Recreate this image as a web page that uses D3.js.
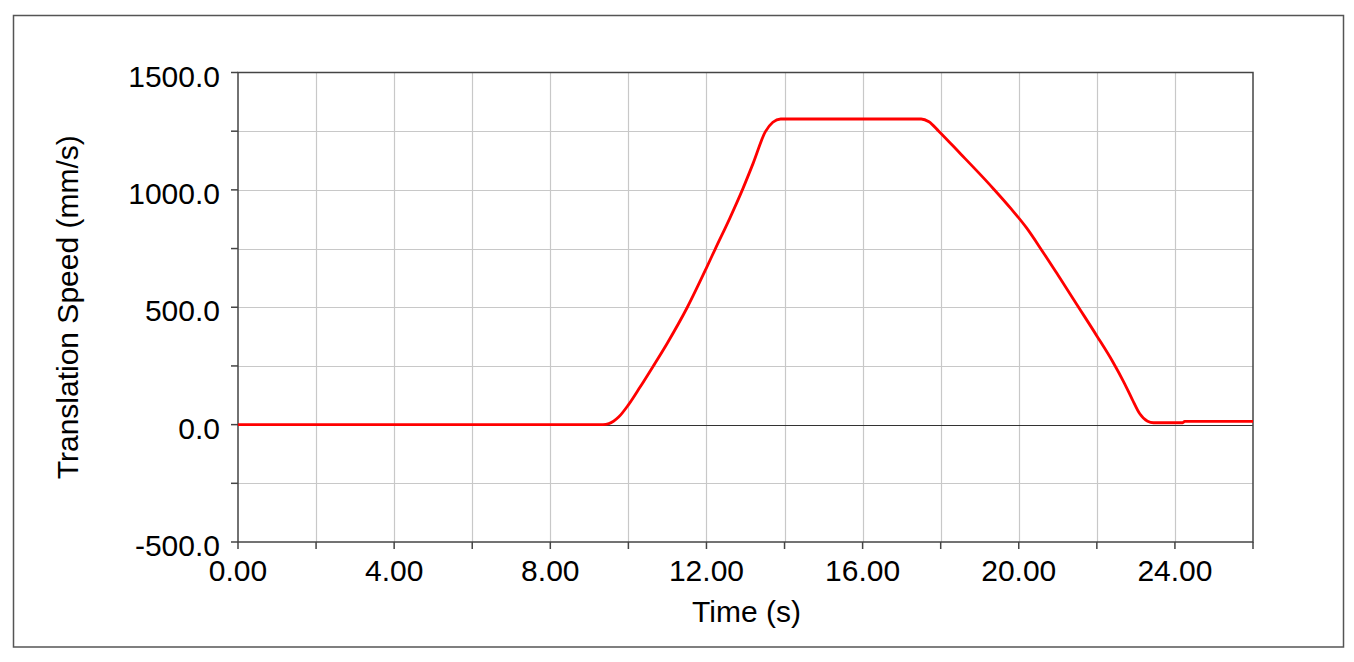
<!DOCTYPE html>
<html>
<head>
<meta charset="utf-8">
<title>Translation Speed</title>
<script src="https://d3js.org/d3.v7.min.js"></script>
<style>
body { margin: 0; background: #fff; }
svg { display: block; }
text { font-family: "Liberation Sans", Arial, sans-serif; fill: #000; }
</style>
</head>
<body>
<svg id="chart"></svg>
<script>

    // Data
    var timeS = [0, 9.35, 9.5, 9.75, 10, 10.3, 10.64, 11, 11.51, 12, 12.23, 12.6, 12.92, 13.2,
                 13.51, 13.7, 13.9, 17.5, 17.7, 17.95, 18.5, 19.0, 19.35, 19.8, 20.2, 20.6,
                 21, 21.54, 22, 22.4, 22.7, 22.9, 23.1, 23.3, 23.45, 24.2, 24.25, 26];
    var speedMmS = [0, 0, 4, 32, 84, 160, 250, 348, 500, 668, 750, 880, 1000, 1115,
                    1248, 1288, 1302, 1302, 1290, 1250, 1155, 1068, 1005, 920, 838, 740,
                    638, 498, 378, 270, 178, 110, 46, 14, 8, 8, 14, 14];

    // Ticks
    var xMajorTicks = [0, 4, 8, 12, 16, 20, 24];
    var xMinorTicks = [0, 2, 4, 6, 8, 10, 12, 14, 16, 18, 20, 22, 24, 26];
    var yMajorTicks = [-500, 0, 500, 1000, 1500];
    var yMinorTicks = [-500, -250, 0, 250, 500, 750, 1000, 1250, 1500];

    var width = 1354;
    var height = 662;
    var plotLeft = 238, plotRight = 1253, plotTop = 72.5, plotBottom = 542;

    var svg = d3.select('#chart')
        .attr('width', width)
        .attr('height', height);

    // outer frame
    svg.append('rect')
        .attr('x', 13.5).attr('y', 15.5)
        .attr('width', 1330).attr('height', 631.5)
        .attr('fill', 'none')
        .attr('stroke', '#555')
        .attr('stroke-width', 1.5);

    var x = d3.scaleLinear().domain([0, 26]).range([plotLeft, plotRight]);
    var y = d3.scaleLinear().domain([-500, 1500]).range([plotBottom, plotTop]);

    // grid
    svg.append('g').selectAll('line')
        .data(xMinorTicks.slice(1, -1))
        .enter().append('line')
        .attr('x1', function (d) { return Math.round(x(d)) + 0.5; })
        .attr('x2', function (d) { return Math.round(x(d)) + 0.5; })
        .attr('y1', plotTop).attr('y2', plotBottom)
        .attr('stroke', '#c8c8c8').attr('stroke-width', 1.2);

    svg.append('g').selectAll('line')
        .data(yMinorTicks.slice(1, -1))
        .enter().append('line')
        .attr('x1', plotLeft).attr('x2', plotRight)
        .attr('y1', function (d) { return Math.round(y(d)) + 0.5; })
        .attr('y2', function (d) { return Math.round(y(d)) + 0.5; })
        .attr('stroke', function (d) { return d === 0 ? '#333' : '#c8c8c8'; })
        .attr('stroke-width', 1.2);

    // plot frame
    svg.append('rect')
        .attr('x', plotLeft).attr('y', plotTop)
        .attr('width', plotRight - plotLeft).attr('height', plotBottom - plotTop)
        .attr('fill', 'none')
        .attr('stroke', '#444')
        .attr('stroke-width', 1.5);

    // x axis ticks + labels
    var xAxis = svg.append('g').attr('transform', 'translate(0,' + plotBottom + ')');
    xAxis.selectAll('line')
        .data(xMinorTicks)
        .enter().append('line')
        .attr('x1', function (d) { return x(d); })
        .attr('x2', function (d) { return x(d); })
        .attr('y1', 0).attr('y2', 7)
        .attr('stroke', '#444').attr('stroke-width', 1.5);
    xAxis.selectAll('text')
        .data(xMajorTicks)
        .enter().append('text')
        .attr('x', function (d) { return x(d); })
        .attr('y', 39)
        .attr('text-anchor', 'middle')
        .style('font-size', '30px')
        .text(function (d) { return d.toFixed(2); });

    // y axis ticks + labels
    var yAxis = svg.append('g').attr('transform', 'translate(' + plotLeft + ',0)');
    yAxis.selectAll('line')
        .data(yMinorTicks)
        .enter().append('line')
        .attr('x1', -7).attr('x2', 0)
        .attr('y1', function (d) { return y(d); })
        .attr('y2', function (d) { return y(d); })
        .attr('stroke', '#444').attr('stroke-width', 1.5);
    yAxis.selectAll('text')
        .data(yMajorTicks)
        .enter().append('text')
        .attr('x', -18)
        .attr('y', function (d) { return y(d) + 14; })
        .attr('text-anchor', 'end')
        .style('font-size', '30px')
        .text(function (d) { return d.toFixed(1); });

    // axis titles
    svg.append('text')
        .attr('x', (plotLeft + plotRight) / 2 + 1)
        .attr('y', 622)
        .attr('text-anchor', 'middle')
        .style('font-size', '30px')
        .text('Time (s)');

    svg.append('text')
        .attr('transform', 'translate(78,' + ((plotTop + plotBottom) / 2) + ')rotate(-90)')
        .attr('text-anchor', 'middle')
        .style('font-size', '30px')
        .text('Translation Speed (mm/s)');

    // the speed curve
    var points = timeS.map(function (t, i) { return [t, speedMmS[i]]; });
    var line = d3.line()
        .x(function (d) { return x(d[0]); })
        .y(function (d) { return y(d[1]); })
        .curve(d3.curveMonotoneX);

    svg.append('path')
        .datum(points)
        .attr('d', line)
        .attr('fill', 'none')
        .attr('stroke', '#ff0000')
        .attr('stroke-width', 2.8);

</script>
</body>
</html>
